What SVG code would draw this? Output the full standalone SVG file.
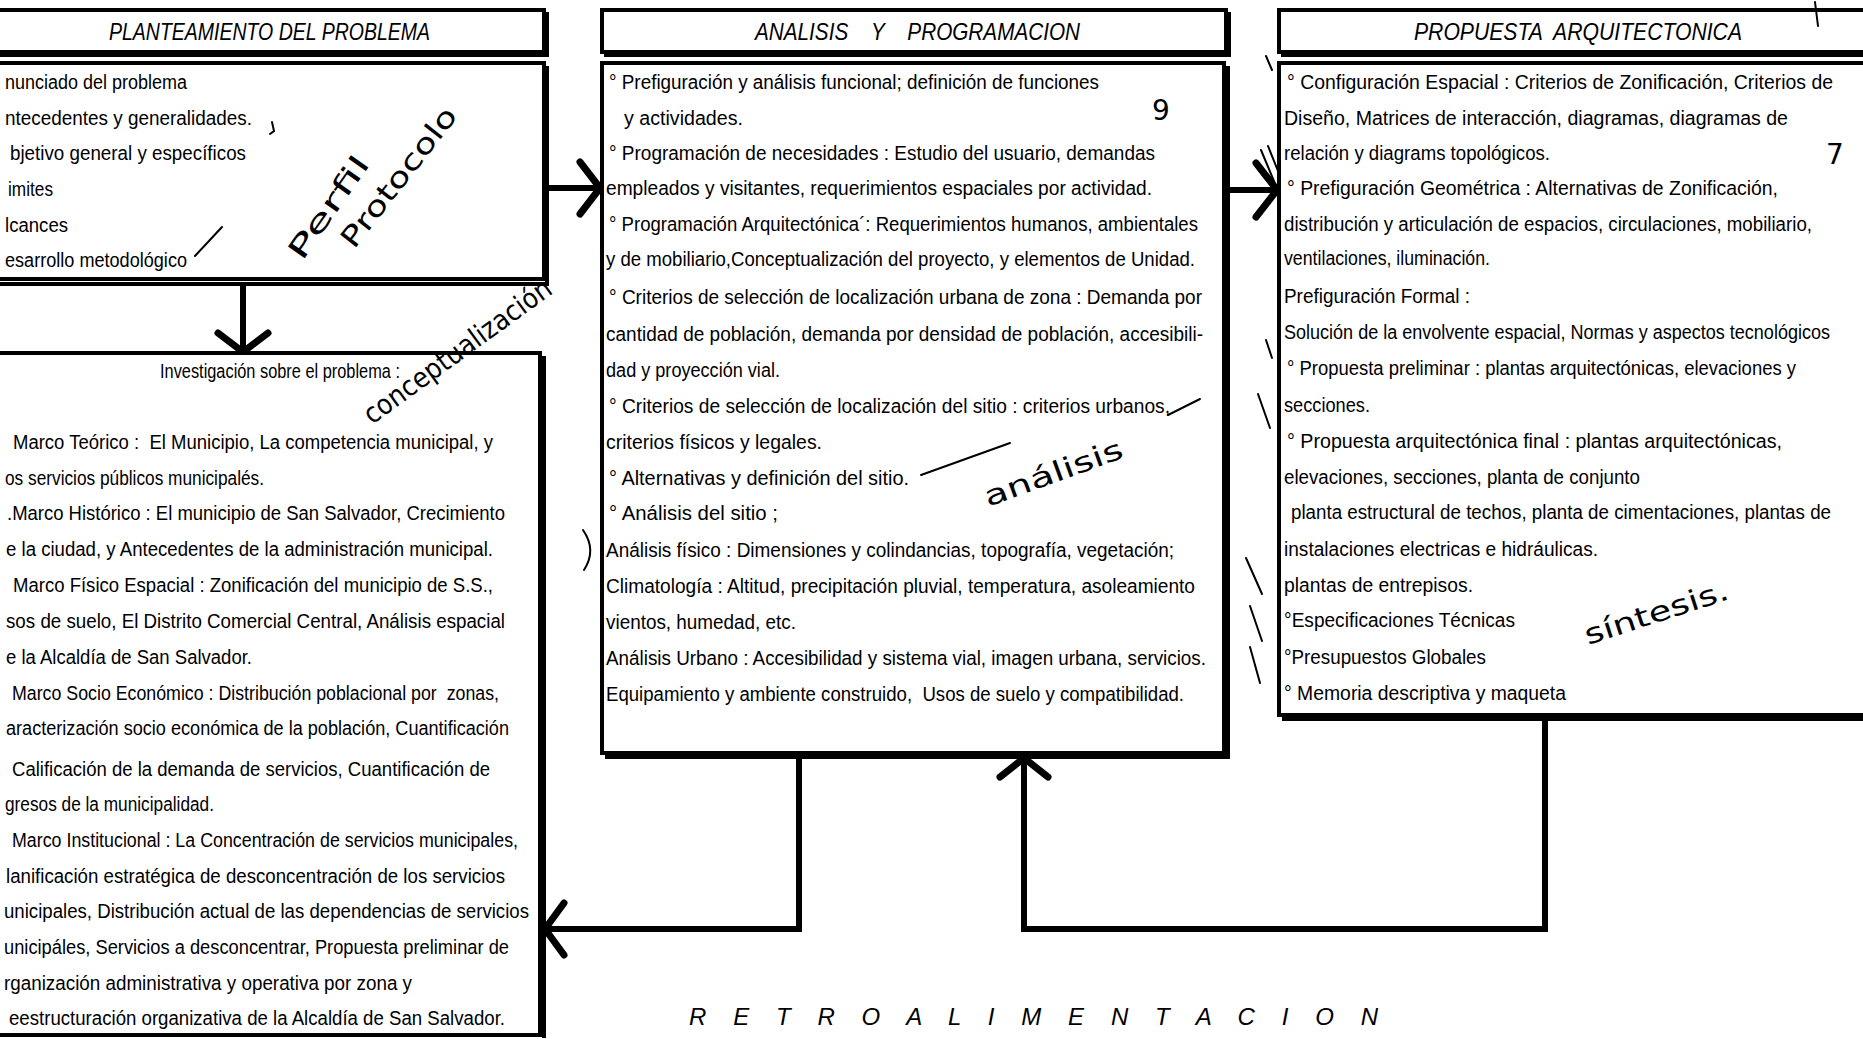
<svg xmlns="http://www.w3.org/2000/svg" width="1863" height="1039" viewBox="0 0 1863 1039">
<defs>
<style>
.bx{fill:#fff;stroke:#000;stroke-width:4}
.sh{fill:none;stroke:#000;stroke-width:4}
.ln{fill:none;stroke:#000;stroke-width:6;stroke-linejoin:miter}
.hd{fill:none;stroke:#000;stroke-width:7;stroke-linecap:round;stroke-linejoin:round}
.t{font-family:"Liberation Sans Narrow","Liberation Sans",sans-serif;font-size:20px;fill:#000;white-space:pre}
.ti{font-family:"Liberation Sans Narrow","Liberation Sans",sans-serif;font-size:24px;font-style:italic;fill:#000;white-space:pre}
.hw{font-family:"DejaVu Sans",sans-serif;font-size:28px;fill:#000;font-weight:normal}
.mk{fill:none;stroke:#000;stroke-width:2;stroke-linecap:round}
</style>
</defs>
<rect width="1863" height="1039" fill="#fff"/>

<g id="connectors">
<line class="ln" x1="546" y1="188" x2="599" y2="188"/>
<polyline class="hd" points="580,162 600,188 580,214"/>
<line class="ln" x1="1230" y1="190" x2="1276" y2="190"/>
<polyline class="hd" points="1256,163 1277,190 1256,217"/>
<line class="ln" x1="243" y1="285" x2="243" y2="351"/>
<polyline class="hd" points="218,333 243,352 268,333"/>
<polyline class="ln" points="1545,718 1545,929 1024,929 1024,759"/>
<polyline class="hd" points="1000,777 1024,758 1048,777"/>
<polyline class="ln" points="799,756 799,929 546,929"/>
<polyline class="hd" points="564,903 545,929 564,955"/>
</g>

<g id="title-planteamiento">
<rect class="bx" x="-4" y="10" width="548" height="42"/>
<polyline class="sh" points="547,12 547,55 -4,55"/>
<text class="ti" x="109" y="40" textLength="321" lengthAdjust="spacingAndGlyphs">PLANTEAMIENTO DEL PROBLEMA</text>
</g>

<g id="box-planteamiento">
<rect class="bx" x="-4" y="63" width="548" height="216"/>
<polyline class="sh" points="547,66 547,284 -4,284"/>
<text class="t" x="5" y="89" textLength="182" lengthAdjust="spacingAndGlyphs">nunciado del problema</text>
<text class="t" x="5" y="125" textLength="247" lengthAdjust="spacingAndGlyphs">ntecedentes y generalidades.</text>
<text class="t" x="10" y="160" textLength="236" lengthAdjust="spacingAndGlyphs">bjetivo general y específicos</text>
<text class="t" x="8" y="196" textLength="45" lengthAdjust="spacingAndGlyphs">imites</text>
<text class="t" x="5" y="232" textLength="63" lengthAdjust="spacingAndGlyphs">lcances</text>
<text class="t" x="5" y="267" textLength="182" lengthAdjust="spacingAndGlyphs">esarrollo metodológico</text>
</g>

<g id="box-investigacion">
<rect class="bx" x="-4" y="353" width="544" height="682"/>
<polyline class="sh" points="544,356 544,1038"/>
<text class="t" x="160" y="378" textLength="240" lengthAdjust="spacingAndGlyphs">Investigación sobre el problema :</text>
<text class="t" x="13" y="449" textLength="480" lengthAdjust="spacingAndGlyphs" xml:space="preserve">Marco Teórico :  El Municipio, La competencia municipal, y</text>
<text class="t" x="5" y="485" textLength="259" lengthAdjust="spacingAndGlyphs">os servicios públicos municipalés.</text>
<text class="t" x="7" y="520" textLength="498" lengthAdjust="spacingAndGlyphs">.Marco Histórico : El municipio de San Salvador, Crecimiento</text>
<text class="t" x="6" y="556" textLength="487" lengthAdjust="spacingAndGlyphs">e la ciudad, y Antecedentes de la administración municipal.</text>
<text class="t" x="13" y="592" textLength="480" lengthAdjust="spacingAndGlyphs">Marco Físico Espacial : Zonificación del municipio de S.S.,</text>
<text class="t" x="6" y="628" textLength="499" lengthAdjust="spacingAndGlyphs">sos de suelo, El Distrito Comercial Central, Análisis espacial</text>
<text class="t" x="6" y="664" textLength="246" lengthAdjust="spacingAndGlyphs">e la Alcaldía de San Salvador.</text>
<text class="t" x="12" y="700" textLength="487" lengthAdjust="spacingAndGlyphs" xml:space="preserve">Marco Socio Económico : Distribución poblacional por  zonas,</text>
<text class="t" x="6" y="735" textLength="503" lengthAdjust="spacingAndGlyphs">aracterización socio económica de la población, Cuantificación</text>
<text class="t" x="12" y="776" textLength="478" lengthAdjust="spacingAndGlyphs">Calificación de la demanda de servicios, Cuantificación de</text>
<text class="t" x="5" y="811" textLength="209" lengthAdjust="spacingAndGlyphs">gresos de la municipalidad.</text>
<text class="t" x="12" y="847" textLength="506" lengthAdjust="spacingAndGlyphs">Marco Institucional : La Concentración de servicios municipales,</text>
<text class="t" x="6" y="883" textLength="499" lengthAdjust="spacingAndGlyphs">lanificación estratégica de desconcentración de los servicios</text>
<text class="t" x="4" y="918" textLength="525" lengthAdjust="spacingAndGlyphs">unicipales, Distribución actual de las dependencias de servicios</text>
<text class="t" x="4" y="954" textLength="505" lengthAdjust="spacingAndGlyphs">unicipáles, Servicios a desconcentrar, Propuesta preliminar de</text>
<text class="t" x="4" y="990" textLength="408" lengthAdjust="spacingAndGlyphs">rganización administrativa y operativa por zona y</text>
<text class="t" x="9" y="1025" textLength="496" lengthAdjust="spacingAndGlyphs">eestructuración organizativa de la Alcaldía de San Salvador.</text>
</g>

<g id="title-analisis">
<rect class="bx" x="602" y="10" width="624" height="42"/>
<polyline class="sh" points="1229,12 1229,55 604,55"/>
<text class="ti" x="755" y="40" textLength="325" lengthAdjust="spacingAndGlyphs" xml:space="preserve">ANALISIS    Y    PROGRAMACION</text>
</g>

<g id="box-analisis">
<rect class="bx" x="602" y="63" width="622" height="690"/>
<polyline class="sh" points="1228,66 1228,757 605,757"/>
<text class="t" x="609" y="89" textLength="490" lengthAdjust="spacingAndGlyphs">° Prefiguración y análisis funcional; definición de funciones</text>
<text class="t" x="624" y="125" textLength="119" lengthAdjust="spacingAndGlyphs">y actividades.</text>
<text class="t" x="609" y="160" textLength="546" lengthAdjust="spacingAndGlyphs">° Programación de necesidades : Estudio del usuario, demandas</text>
<text class="t" x="606" y="195" textLength="546" lengthAdjust="spacingAndGlyphs">empleados y visitantes, requerimientos espaciales por actividad.</text>
<text class="t" x="609" y="231" textLength="589" lengthAdjust="spacingAndGlyphs">° Programación Arquitectónica´: Requerimientos humanos, ambientales</text>
<text class="t" x="606" y="266" textLength="589" lengthAdjust="spacingAndGlyphs">y de mobiliario,Conceptualización del proyecto, y elementos de Unidad.</text>
<text class="t" x="609" y="304" textLength="593" lengthAdjust="spacingAndGlyphs">° Criterios de selección de localización urbana de zona : Demanda por</text>
<text class="t" x="606" y="341" textLength="597" lengthAdjust="spacingAndGlyphs">cantidad de población, demanda por densidad de población, accesibili-</text>
<text class="t" x="606" y="377" textLength="174" lengthAdjust="spacingAndGlyphs">dad y proyección vial.</text>
<text class="t" x="609" y="413" textLength="561" lengthAdjust="spacingAndGlyphs">° Criterios de selección de localización del sitio : criterios urbanos,</text>
<text class="t" x="606" y="449" textLength="216" lengthAdjust="spacingAndGlyphs">criterios físicos y legales.</text>
<text class="t" x="609" y="485" textLength="300" lengthAdjust="spacingAndGlyphs">° Alternativas y definición del sitio.</text>
<text class="t" x="609" y="520" textLength="169" lengthAdjust="spacingAndGlyphs">° Análisis del sitio ;</text>
<text class="t" x="606" y="557" textLength="568" lengthAdjust="spacingAndGlyphs">Análisis físico : Dimensiones y colindancias, topografía, vegetación;</text>
<text class="t" x="606" y="593" textLength="589" lengthAdjust="spacingAndGlyphs">Climatología : Altitud, precipitación pluvial, temperatura, asoleamiento</text>
<text class="t" x="606" y="629" textLength="190" lengthAdjust="spacingAndGlyphs">vientos, humedad, etc.</text>
<text class="t" x="606" y="665" textLength="600" lengthAdjust="spacingAndGlyphs">Análisis Urbano : Accesibilidad y sistema vial, imagen urbana, servicios.</text>
<text class="t" x="606" y="701" textLength="578" lengthAdjust="spacingAndGlyphs" xml:space="preserve">Equipamiento y ambiente construido,  Usos de suelo y compatibilidad.</text>
</g>

<g id="title-propuesta">
<rect class="bx" x="1279" y="10" width="600" height="42"/>
<polyline class="sh" points="1281,55 1870,55"/>
<text class="ti" x="1414" y="40" textLength="328" lengthAdjust="spacingAndGlyphs" xml:space="preserve">PROPUESTA  ARQUITECTONICA</text>
</g>

<g id="box-propuesta">
<rect class="bx" x="1279" y="63" width="600" height="652"/>
<polyline class="sh" points="1282,719 1870,719"/>
<text class="t" x="1287" y="89" textLength="546" lengthAdjust="spacingAndGlyphs">° Configuración Espacial : Criterios de Zonificación, Criterios de</text>
<text class="t" x="1284" y="125" textLength="504" lengthAdjust="spacingAndGlyphs">Diseño, Matrices de interacción, diagramas, diagramas de</text>
<text class="t" x="1284" y="160" textLength="266" lengthAdjust="spacingAndGlyphs">relación y diagrams topológicos.</text>
<text class="t" x="1287" y="195" textLength="491" lengthAdjust="spacingAndGlyphs">° Prefiguración Geométrica : Alternativas de Zonificación,</text>
<text class="t" x="1284" y="231" textLength="528" lengthAdjust="spacingAndGlyphs">distribución y articulación de espacios, circulaciones, mobiliario,</text>
<text class="t" x="1284" y="265" textLength="206" lengthAdjust="spacingAndGlyphs">ventilaciones, iluminación.</text>
<text class="t" x="1284" y="303" textLength="186" lengthAdjust="spacingAndGlyphs">Prefiguración Formal :</text>
<text class="t" x="1284" y="339" font-size="18" textLength="546" lengthAdjust="spacingAndGlyphs">Solución de la envolvente espacial, Normas y aspectos tecnológicos</text>
<text class="t" x="1287" y="375" textLength="509" lengthAdjust="spacingAndGlyphs">° Propuesta preliminar : plantas arquitectónicas, elevaciones y</text>
<text class="t" x="1284" y="412" textLength="86" lengthAdjust="spacingAndGlyphs">secciones.</text>
<text class="t" x="1287" y="448" textLength="495" lengthAdjust="spacingAndGlyphs">° Propuesta arquitectónica final : plantas arquitectónicas,</text>
<text class="t" x="1284" y="484" textLength="356" lengthAdjust="spacingAndGlyphs">elevaciones, secciones, planta de conjunto</text>
<text class="t" x="1291" y="519" font-size="18" textLength="540" lengthAdjust="spacingAndGlyphs">planta estructural de techos, planta de cimentaciones, plantas de</text>
<text class="t" x="1284" y="556" textLength="314" lengthAdjust="spacingAndGlyphs">instalaciones electricas e hidráulicas.</text>
<text class="t" x="1284" y="592" textLength="189" lengthAdjust="spacingAndGlyphs">plantas de entrepisos.</text>
<text class="t" x="1284" y="627" textLength="231" lengthAdjust="spacingAndGlyphs">°Especificaciones Técnicas</text>
<text class="t" x="1284" y="664" textLength="202" lengthAdjust="spacingAndGlyphs">°Presupuestos Globales</text>
<text class="t" x="1284" y="700" textLength="282" lengthAdjust="spacingAndGlyphs">° Memoria descriptiva y maqueta</text>
</g>

<g id="label-retroalimentacion">
<text class="ti" x="689" y="1025" font-size="20" textLength="689" lengthAdjust="spacing">R E T R O A L I M E N T A C I O N</text>
</g>

<g id="annotations">
<path class="mk" d="M272,122 L274,131 L270,134"/>
<line class="mk" x1="222" y1="227" x2="195" y2="256"/>
<text class="hw" transform="translate(302,262) rotate(-55)" textLength="120" lengthAdjust="spacingAndGlyphs">Perfil</text>
<text class="hw" transform="translate(354,250) rotate(-52)" textLength="170" lengthAdjust="spacingAndGlyphs">Protocolo</text>
<text class="hw" font-size="22" transform="translate(372,425) rotate(-36)" textLength="225" lengthAdjust="spacingAndGlyphs">conceptualización</text>
<text class="hw" font-size="36" x="1152" y="120">9</text>
<text class="hw" font-size="40" x="1826" y="164">7</text>
<line class="mk" x1="1168" y1="415" x2="1200" y2="399"/>
<line class="mk" x1="921" y1="475" x2="1010" y2="443"/>
<text class="hw" font-size="30" transform="translate(988,507) rotate(-20)" textLength="146" lengthAdjust="spacingAndGlyphs">análisis</text>
<text class="hw" font-size="30" transform="translate(1588,645) rotate(-18)" textLength="150" lengthAdjust="spacingAndGlyphs">síntesis.</text>
<path class="mk" d="M583,530 Q597,550 584,570"/>
<line class="mk" x1="1815" y1="2" x2="1818" y2="26"/>
<line class="mk" x1="1266" y1="56" x2="1272" y2="70"/>
<line class="mk" x1="1261" y1="150" x2="1276" y2="186"/>
<line class="mk" x1="1268" y1="146" x2="1280" y2="176"/>
<line class="mk" x1="1266" y1="340" x2="1272" y2="358"/>
<line class="mk" x1="1258" y1="394" x2="1270" y2="428"/>
<line class="mk" x1="1246" y1="558" x2="1262" y2="594"/>
<line class="mk" x1="1250" y1="606" x2="1262" y2="641"/>
<line class="mk" x1="1250" y1="647" x2="1260" y2="683"/>
</g>
</svg>
